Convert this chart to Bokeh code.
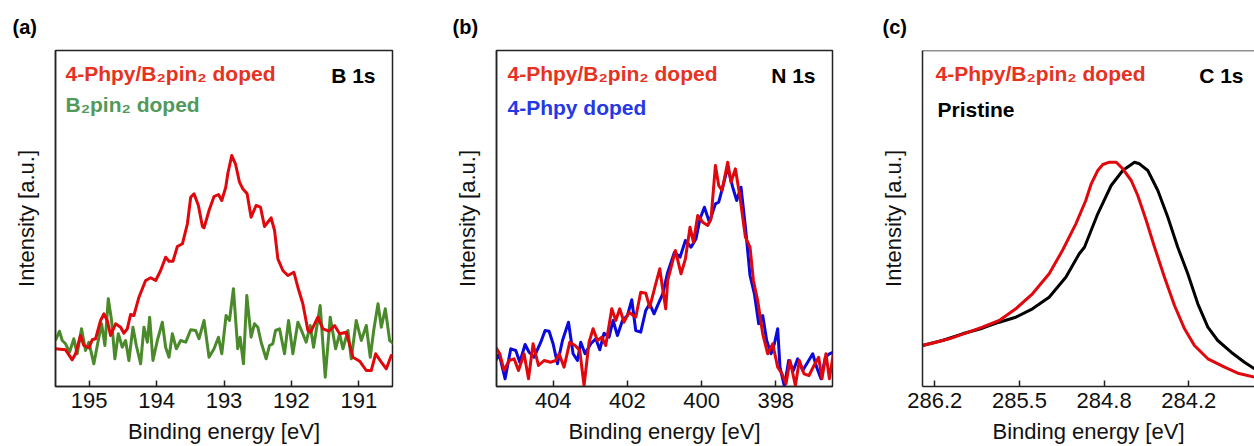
from bokeh.plotting import figure
from bokeh.models import Range1d, FixedTicker, Label, Span
from bokeh.layouts import row
from bokeh.embed import file_html
from bokeh.resources import INLINE

# ---------------- data ----------------
# (a) B 1s
b1s_doped_energy = [195.500, 195.351, 195.252, 195.203, 195.129, 195.079, 195.005, 194.955, 194.906, 194.831,
                    194.782, 194.732, 194.683, 194.608, 194.534, 194.485, 194.435, 194.386, 194.337, 194.262,
                    194.163, 194.088, 194.014, 193.940, 193.866, 193.816, 193.757, 193.692, 193.617, 193.543,
                    193.494, 193.445, 193.380, 193.320, 193.296, 193.222, 193.148, 193.082, 193.033, 192.974,
                    192.944, 192.885, 192.830, 192.770, 192.721, 192.657, 192.598, 192.524, 192.458, 192.399,
                    192.301, 192.250, 192.201, 192.127, 192.053, 191.964, 191.904, 191.830, 191.755, 191.715,
                    191.607, 191.533, 191.443, 191.359, 191.285, 191.186, 191.087, 190.987, 190.889, 190.815,
                    190.750, 190.666, 190.592, 190.518, 190.480]
b1s_doped_intensity = [37.7, 36.7, 26.7, 32.7, 51.0, 41.0, 38.7, 46.7, 47.7, 66.0,
                       72.7, 66.0, 51.0, 62.7, 59.3, 53.3, 57.7, 72.0, 71.0, 89.3,
                       106.0, 108.7, 106.0, 116.0, 129.3, 125.3, 125.3, 140.0, 142.7, 162.7,
                       189.3, 192.7, 181.0, 160.0, 158.7, 176.0, 190.0, 192.0, 186.0, 199.3,
                       212.7, 231.0, 222.7, 204.3, 197.7, 192.7, 169.3, 181.0, 179.3, 160.0,
                       168.7, 156.0, 127.7, 116.0, 111.0, 114.3, 99.3, 82.7, 56.0, 54.3,
                       69.3, 57.7, 55.3, 61.0, 52.7, 54.3, 29.3, 25.3, 16.0, 16.0,
                       32.7, 24.3, 17.7, 31.0, 29.3]
b1s_b2pin2_energy = [195.500, 195.441, 195.400, 195.351, 195.292, 195.228, 195.178, 195.114, 195.054, 195.005,
                     194.931, 194.880, 194.816, 194.767, 194.717, 194.668, 194.619, 194.568, 194.509, 194.460,
                     194.411, 194.351, 194.301, 194.237, 194.188, 194.137, 194.103, 194.054, 193.989, 193.915,
                     193.866, 193.816, 193.766, 193.707, 193.643, 193.568, 193.494, 193.420, 193.371, 193.296,
                     193.222, 193.148, 193.082, 193.033, 192.969, 192.919, 192.860, 192.796, 192.761, 192.711,
                     192.662, 192.598, 192.548, 192.498, 192.449, 192.375, 192.325, 192.276, 192.235, 192.176,
                     192.102, 192.042, 191.978, 191.904, 191.840, 191.781, 191.721, 191.671, 191.573, 191.498,
                     191.424, 191.344, 191.285, 191.235, 191.161, 191.112, 191.038, 190.963, 190.889, 190.830,
                     190.779, 190.715, 190.666, 190.607, 190.542, 190.480]
b1s_b2pin2_intensity = [46.0, 55.3, 46.0, 42.7, 34.3, 47.7, 32.7, 57.7, 36.0, 44.3,
                        22.7, 41.0, 62.7, 41.0, 87.7, 66.0, 27.7, 52.7, 39.3, 46.0,
                        26.0, 59.3, 41.0, 22.7, 59.3, 44.3, 69.3, 26.0, 46.0, 64.3,
                        39.3, 29.3, 52.7, 37.7, 46.0, 44.3, 56.7, 56.0, 47.7, 66.0,
                        29.3, 37.7, 49.3, 32.7, 71.0, 66.0, 97.7, 37.7, 49.3, 22.7,
                        91.0, 49.3, 62.7, 59.3, 44.3, 27.7, 41.0, 42.7, 56.0, 57.7,
                        32.7, 66.0, 32.7, 64.3, 54.3, 44.3, 61.0, 39.3, 81.0, 9.3,
                        69.3, 37.7, 52.7, 37.7, 56.0, 27.7, 66.0, 46.0, 61.0, 29.3,
                        56.0, 82.7, 59.3, 77.7, 46.0, 42.7]

# (b) N 1s
n1s_doped_energy = [405.550, 405.441, 405.325, 405.190, 405.056, 404.937, 404.786, 404.667, 404.543, 404.398,
                    404.247, 404.066, 403.932, 403.843, 403.708, 403.554, 403.411, 403.285, 403.169, 403.034,
                    402.926, 402.808, 402.692, 402.584, 402.422, 402.314, 402.207, 402.091, 401.956, 401.775,
                    401.641, 401.506, 401.398, 401.255, 401.128, 401.056, 400.967, 400.913, 400.705, 400.554,
                    400.436, 400.312, 400.220, 400.104, 399.969, 399.835, 399.746, 399.627, 399.538, 399.449,
                    399.296, 399.207, 399.088, 398.964, 398.818, 398.694, 398.603, 398.487, 398.352, 398.217,
                    398.083, 397.948, 397.832, 397.724, 397.616, 397.471, 397.363, 397.239, 397.104, 396.969,
                    396.843, 396.754, 396.646, 396.554, 396.447]
n1s_doped_intensity = [39.3, 32.7, 16.0, 26.0, 27.7, 16.0, 32.7, 7.7, 42.7, 21.0,
                       26.0, 24.3, 26.0, 32.7, 19.3, 44.3, 41.0, 36.0, 1.0, 44.3,
                       57.7, 46.0, 49.3, 41.0, 77.7, 66.0, 77.7, 64.3, 74.3, 69.3,
                       94.3, 93.3, 79.3, 100.0, 117.7, 99.3, 77.7, 106.0, 136.0, 112.7,
                       127.7, 159.3, 144.3, 171.0, 164.3, 161.0, 167.7, 221.0, 201.0, 196.0,
                       224.3, 204.3, 217.7, 189.3, 149.3, 139.3, 106.0, 86.0, 52.7, 32.7,
                       42.7, 19.3, 12.7, 2.7, 26.0, 1.0, 26.0, 12.7, 11.0, 21.0,
                       29.3, 7.7, 32.7, 7.7, 32.7]
n1s_phpy_energy = [405.550, 405.460, 405.298, 405.145, 405.010, 404.902, 404.759, 404.651, 404.517, 404.336,
                   404.220, 404.112, 404.004, 403.886, 403.751, 403.589, 403.465, 403.347, 403.258, 403.142,
                   402.988, 402.853, 402.746, 402.630, 402.495, 402.387, 402.269, 402.134, 401.999, 401.883,
                   401.775, 401.641, 401.506, 401.398, 401.282, 401.147, 401.048, 400.913, 400.732, 400.581,
                   400.436, 400.285, 400.150, 400.042, 399.924, 399.789, 399.627, 399.538, 399.430, 399.296,
                   399.161, 399.053, 398.937, 398.818, 398.694, 398.576, 398.460, 398.352, 398.244, 398.128,
                   398.037, 397.948, 397.886, 397.767, 397.651, 397.525, 397.409, 397.274, 397.139, 397.004,
                   396.897, 396.781, 396.662, 396.554, 396.447]
n1s_phpy_intensity = [26.0, 32.7, 7.7, 37.7, 36.0, 24.3, 42.0, 34.3, 29.3, 44.3,
                      56.0, 55.3, 42.7, 22.7, 46.0, 64.3, 32.7, 26.0, 44.3, 32.7,
                      42.7, 47.7, 36.7, 53.3, 49.3, 66.0, 51.0, 66.0, 71.0, 86.7,
                      56.0, 54.3, 76.0, 82.7, 72.7, 84.3, 92.7, 114.3, 134.3, 129.3,
                      146.0, 139.3, 147.7, 167.7, 179.3, 164.3, 182.7, 184.3, 199.3, 219.3,
                      199.3, 186.0, 199.3, 159.3, 111.0, 92.7, 62.7, 71.0, 46.0, 32.7,
                      42.7, 57.7, 19.3, 0.0, 26.0, 16.0, 27.7, 16.0, 24.3, 32.7,
                      19.3, 7.7, 29.3, 32.7, 34.3]

# (c) C 1s
c1s_doped_energy = [286.244, 286.142, 286.039, 285.912, 285.784, 285.655, 285.528, 285.400, 285.272, 285.170,
                    285.067, 284.991, 284.949, 284.899, 284.860, 284.809, 284.757, 284.707, 284.642, 284.592,
                    284.527, 284.463, 284.387, 284.310, 284.233, 284.157, 284.054, 283.926, 283.824, 283.696]
c1s_doped_intensity = [41.0, 44.3, 47.7, 53.3, 59.3, 66.0, 77.7, 92.7, 112.7, 136.0,
                       162.7, 186.0, 202.7, 216.0, 222.0, 224.3, 224.3, 217.7, 206.0, 191.0,
                       166.0, 139.3, 109.3, 81.0, 57.7, 41.0, 27.7, 19.3, 13.3, 9.3]
c1s_pristine_energy = [286.244, 286.091, 285.937, 285.784, 285.655, 285.528, 285.400, 285.272, 285.144, 285.041,
                       285.001, 284.899, 284.796, 284.707, 284.617, 284.579, 284.515, 284.438, 284.361, 284.285,
                       284.208, 284.131, 284.054, 283.978, 283.875, 283.773, 283.696]
c1s_pristine_intensity = [41.0, 46.0, 52.7, 58.3, 64.3, 69.3, 77.7, 89.3, 109.3, 132.7,
                          139.3, 172.7, 201.0, 216.0, 224.3, 222.7, 216.0, 196.0, 169.3, 139.3,
                          112.7, 82.7, 59.3, 46.0, 34.3, 24.3, 17.7]

a_ticks = [195, 194, 193, 192, 191]
b_ticks = [404, 402, 400, 398]
c_ticks = [286.15, 285.5, 284.85, 284.2]
c_tick_labels = ["286.2", "285.5", "284.8", "284.2"]

# ---------------- styling ----------------
FONT = "Liberation Sans"
FRAME_COLOR = "#222222"
RED_LINE = "#e0080c"
RED_TEXT = "#e6321e"
GREEN_LINE = "#4b8a2b"
GREEN_TEXT = "#52995a"
BLUE_LINE = "#0a0adc"
BLUE_TEXT = "#2438e6"
H = 446
TOP = 50
BOTTOM = 60
FRAME_H = H - TOP - BOTTOM


def make_panel(letter, xr, ticks, tick_labels, width, bl, br, title_offset, outline=True):
    p = figure(width=width, height=H, output_backend="svg", toolbar_location=None,
               x_range=Range1d(*xr), y_range=Range1d(0, 336),
               min_border_left=bl, min_border_right=br,
               min_border_top=TOP, min_border_bottom=BOTTOM)
    p.background_fill_color = "white"
    p.border_fill_color = "white"
    p.grid.visible = False
    p.title.text = letter
    p.title.align = "left"
    p.title.offset = title_offset
    p.title.text_font = FONT
    p.title.text_font_size = "20px"
    p.title.text_font_style = "bold"
    p.title.text_color = "black"
    p.title.standoff = 25
    if outline:
        p.outline_line_color = FRAME_COLOR
        p.outline_line_width = 1.5
        p.outline_line_alpha = 1.0
    else:
        p.outline_line_color = None
        p.add_layout(Span(location=336, dimension="width", line_color=FRAME_COLOR, line_width=1.5))

    xa = p.xaxis[0]
    xa.ticker = FixedTicker(ticks=ticks)
    if tick_labels:
        xa.major_label_overrides = {t: l for t, l in zip(ticks, tick_labels)}
    xa.major_tick_in = 6
    xa.major_tick_out = 0
    xa.major_tick_line_color = FRAME_COLOR
    xa.major_tick_line_width = 1.5
    xa.minor_tick_line_color = None
    xa.axis_line_color = FRAME_COLOR
    xa.axis_line_width = 1.5
    xa.major_label_text_font = FONT
    xa.major_label_text_font_size = "22px"
    xa.major_label_text_color = "#111111"
    xa.major_label_standoff = 6
    xa.axis_label = "Binding energy [eV]"
    xa.axis_label_text_font = FONT
    xa.axis_label_text_font_size = "22px"
    xa.axis_label_text_font_style = "normal"
    xa.axis_label_text_color = "#111111"
    xa.axis_label_standoff = 8

    ya = p.yaxis[0]
    ya.ticker = FixedTicker(ticks=[])
    ya.major_tick_line_color = None
    ya.minor_tick_line_color = None
    ya.major_label_text_font_size = "0px"
    ya.axis_line_color = FRAME_COLOR
    ya.axis_line_width = 1.5
    ya.axis_label = "Intensity [a.u.]"
    ya.axis_label_text_font = FONT
    ya.axis_label_text_font_size = "22px"
    ya.axis_label_text_font_style = "normal"
    ya.axis_label_text_color = "#111111"
    ya.axis_label_standoff = 17
    return p


def add_text(p, x, y_from_top, text, color, align="left"):
    p.add_layout(Label(x=x, y=FRAME_H - y_from_top, x_units="screen", y_units="screen",
                       text=text, text_color=color, text_font=FONT, text_font_size="21px",
                       text_font_style="bold", text_align=align, text_baseline="alphabetic"))


# (a)
pa = make_panel("(a)", (195.5, 190.5), a_ticks, None, 440, 55, 48, -43)
pa.line(b1s_b2pin2_energy, b1s_b2pin2_intensity, line_color=GREEN_LINE, line_width=3, line_join="round")
pa.line(b1s_doped_energy, b1s_doped_intensity, line_color=RED_LINE, line_width=3, line_join="round")
add_text(pa, 10, 23, "4-Phpy/B₂pin₂ doped", RED_TEXT)
add_text(pa, 10, 54, "B₂pin₂ doped", GREEN_TEXT)
add_text(pa, 320, 25, "B 1s", "black", align="right")

# (b)
pb = make_panel("(b)", (405.53, 396.47), b_ticks, None, 430, 56, 38, -44)
pb.line(n1s_phpy_energy, n1s_phpy_intensity, line_color=BLUE_LINE, line_width=3, line_join="round")
pb.line(n1s_doped_energy, n1s_doped_intensity, line_color=RED_LINE, line_width=3, line_join="round")
add_text(pb, 11, 23, "4-Phpy/B₂pin₂ doped", RED_TEXT)
add_text(pb, 11, 57, "4-Phpy doped", BLUE_TEXT)
add_text(pb, 319, 25, "N 1s", "black", align="right")

# (c)
pc = make_panel("(c)", (286.244, 283.696), c_ticks, c_tick_labels, 384, 52, 0, -40, outline=False)
pc.line(c1s_pristine_energy, c1s_pristine_intensity, line_color="black", line_width=3, line_join="round")
pc.line(c1s_doped_energy, c1s_doped_intensity, line_color=RED_LINE, line_width=3, line_join="round")
add_text(pc, 13, 23, "4-Phpy/B₂pin₂ doped", RED_TEXT)
add_text(pc, 15, 59, "Pristine", "black")
add_text(pc, 321, 25, "C 1s", "black", align="right")

layout = row(pa, pb, pc)
open("out.html", "w").write(file_html(layout, INLINE))
